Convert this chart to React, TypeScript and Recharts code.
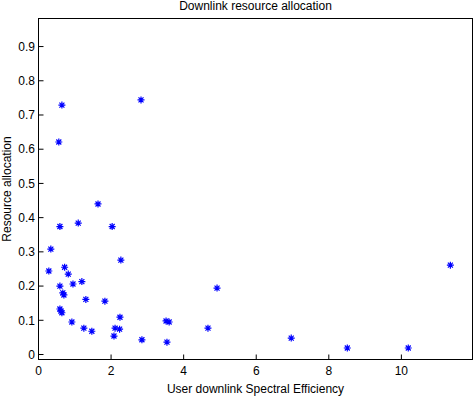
import { ScatterChart, Scatter, XAxis, YAxis } from 'recharts';

// spectral efficiency per user (x) and resource share (y)
const efficiency = [
  1.64, 1.095, 0.59, 2.03, 0.34, 2.27, 0.285, 0.72, 0.82, 1.195,
  0.95, 0.59, 0.67, 0.7, 1.305, 1.83, 0.59, 0.62, 0.645, 2.245,
  0.92, 1.25, 1.47, 2.11, 2.235, 2.08, 2.85, 3.515, 3.6, 3.54,
  4.67, 4.92, 6.965, 8.51, 10.19, 11.35, 0.645, 0.56, 2.825,
];
const allocation = [
  0.44, 0.384, 0.374, 0.374, 0.308, 0.276, 0.244, 0.255, 0.235, 0.213,
  0.206, 0.2, 0.18, 0.174, 0.161, 0.156, 0.133, 0.127, 0.122, 0.109,
  0.095, 0.077, 0.068, 0.077, 0.074, 0.054, 0.043, 0.098, 0.095, 0.036,
  0.077, 0.194, 0.048, 0.019, 0.019, 0.261, 0.729, 0.621, 0.744,
];

const xTicks = [0, 2, 4, 6, 8, 10];
const yTicks = [0, 0.1, 0.2, 0.3, 0.4, 0.5, 0.6, 0.7, 0.8, 0.9];

const data = efficiency.map((x, i) => ({ x, y: allocation[i] }));

const FONT = '"Liberation Sans", Arial, Helvetica, sans-serif';
const tickStyle = { fill: '#000', fontSize: 12, fontFamily: FONT };
const labelStyle = { fill: '#000', fontSize: 12, fontFamily: FONT };
const xDomain = [0, 11.96];
const yDomain = [-0.0146, 0.982];

function Star(props: any) {
  const { cx, cy } = props;
  const r = 3.5;
  const d = 2.5;
  return (
    <path
      d={`M${cx - r},${cy}h${2 * r}M${cx},${cy - r}v${2 * r}M${cx - d},${cy - d}l${2 * d},${2 * d}M${cx - d},${cy + d}l${2 * d},${-2 * d}`}
      stroke="#0000ff"
      strokeWidth={1.2}
      fill="none"
    />
  );
}

const noLabel = () => <g />;

export default function App() {
  return (
    <div style={{ position: 'absolute', left: 0, top: 0, width: 473, height: 396, background: '#fff' }}>
      <div
        style={{
          position: 'absolute',
          left: 38.5,
          width: 434,
          top: 0,
          textAlign: 'center',
          fontFamily: FONT,
          fontSize: 12,
          lineHeight: '12px',
          color: '#000',
        }}
      >
        Downlink resource allocation
      </div>
      {/* axes box */}
      <div
        style={{
          position: 'absolute',
          left: 38,
          top: 18,
          width: 435,
          height: 342,
          boxSizing: 'border-box',
          border: '1px solid #000',
          pointerEvents: 'none',
        }}
      />
      <ScatterChart width={473} height={396} margin={{ top: 18.5, right: 0.5, bottom: 0, left: 0 }}>
        <XAxis
          dataKey="x"
          type="number"
          domain={xDomain}
          ticks={xTicks}
          allowDataOverflow
          height={36.5}
          tickSize={-5}
          tickMargin={12.3}
          stroke="#000"
          tick={tickStyle}
          label={{ value: 'User downlink Spectral Efficiency', position: 'insideBottom', offset: 3, style: labelStyle }}
        />
        <YAxis
          dataKey="y"
          type="number"
          domain={yDomain}
          ticks={yTicks}
          allowDataOverflow
          width={38.5}
          tickSize={-5}
          tickMargin={8.5}
          stroke="#000"
          tick={tickStyle}
          tickFormatter={(v: number) => String(v)}
          label={{ value: 'Resource allocation', angle: -90, position: 'insideLeft', offset: 6.5, style: { ...labelStyle, textAnchor: 'middle' } }}
        />
        <XAxis xAxisId="top" orientation="top" type="number" domain={xDomain} ticks={xTicks} allowDataOverflow height={0} tickSize={-5} tick={noLabel} stroke="#000" />
        <YAxis yAxisId="right" orientation="right" type="number" domain={yDomain} ticks={yTicks} allowDataOverflow width={0} tickSize={-5} tick={noLabel} stroke="#000" />
        <Scatter data={data} shape={Star} isAnimationActive={false} />
      </ScatterChart>
    </div>
  );
}
